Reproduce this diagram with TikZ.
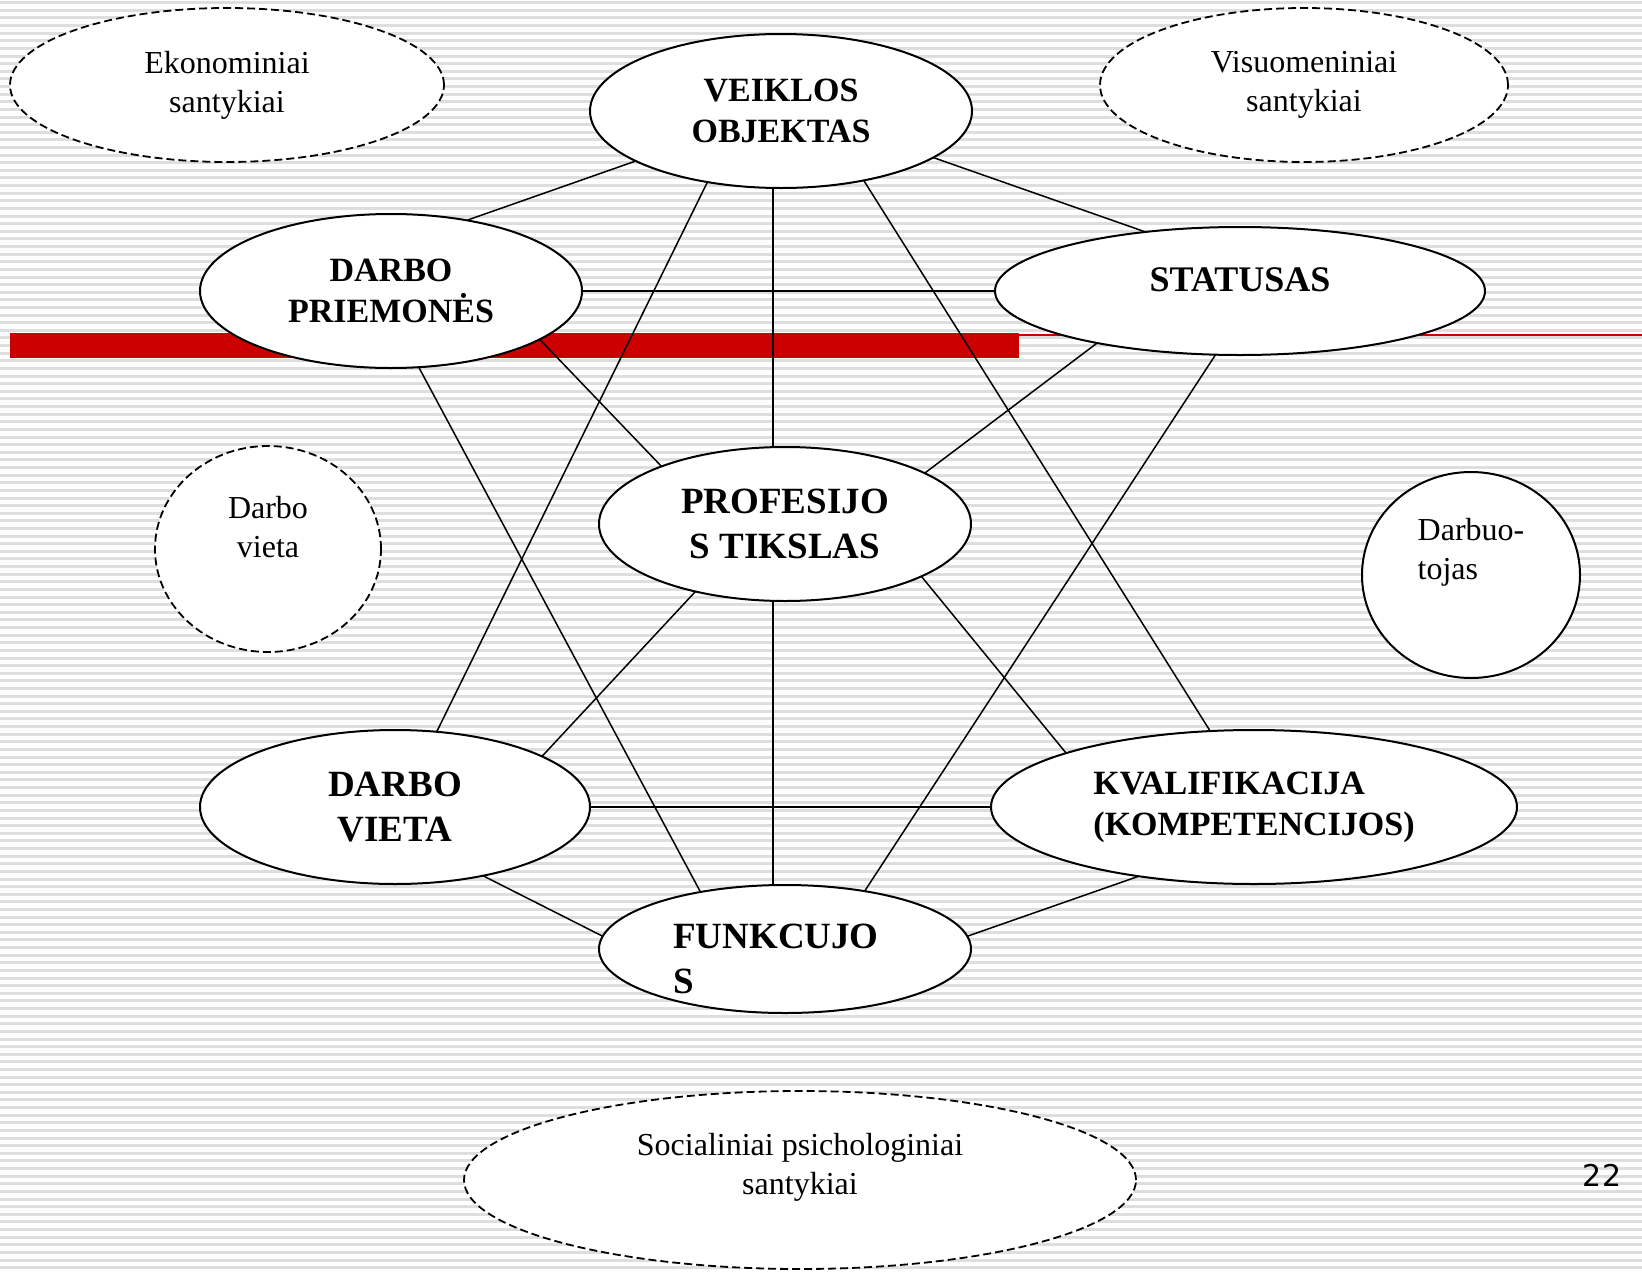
\documentclass[tikz,border=0pt]{standalone}
\usepackage{fontspec}
\setmainfont{Liberation Serif}
\newfontfamily\pagenumfont{DejaVu Sans}
\usetikzlibrary{shapes.geometric}

\tikzset{
  blob/.style={ellipse, draw, line width=2pt, fill=white, inner sep=0pt, outer sep=0pt},
  dblob/.style={blob, line width=1.8pt, dash pattern=on 8pt off 4pt},
  bold34/.style={font=\fontsize{34}{41}\selectfont\bfseries, align=center},
  bold37/.style={font=\fontsize{37}{45}\selectfont\bfseries, align=center},
  plain32/.style={font=\fontsize{32}{39}\selectfont, align=center},
  link/.style={line width=1.5pt},
}

\begin{document}
\begin{tikzpicture}[x=1pt,y=-1pt]
  % Slide background with the light stripes
  \useasboundingbox (0,0) rectangle (1642,1272);
  \fill[white] (0,0) rectangle (1642,1272);
  \foreach \k in {0,...,166}
    \draw[black!13,line width=3pt] (0,2.7+7.62*\k) -- (1642,2.7+7.62*\k);
  % Red title bar
  \fill[red!80!black] (10,333) rectangle (1019,358);
  \draw[red!80!black,line width=2pt] (1019,334.5) -- (1642,334.5);

  % Outer relations (dashed)
  \node[dblob,plain32,minimum width=434pt,minimum height=154pt] (eko) at (227,85) {Ekonominiai\\santykiai};
  \node[dblob,plain32,minimum width=408pt,minimum height=154pt] (vis) at (1304,85) {Visuomeniniai\\santykiai};
  \node[dblob,minimum width=226pt,minimum height=206pt,
        label={[name=dvclbl,plain32,yshift=22pt]center:Darbo\\vieta}] (dvc) at (268,549) {};
  \node[blob,minimum width=218pt,minimum height=206pt,
        label={[name=dbtlbl,plain32,align=left,yshift=23pt]center:Darbuo-\\tojas}] (dbt) at (1471,575) {};
  \node[dblob,minimum width=672pt,minimum height=178pt,
        label={[name=soclbl,plain32,yshift=13pt]center:Socialiniai psichologiniai\\santykiai}] (soc) at (800,1180) {};

  % Main elements
  \node[blob,bold34,minimum width=382pt,minimum height=154pt] (vo) at (781,111) {VEIKLOS\\OBJEKTAS};
  \node[blob,bold34,minimum width=382pt,minimum height=154pt] (dp) at (391,291) {DARBO\\PRIEMONĖS};
  \node[blob,minimum width=490pt,minimum height=128pt,
        label={[name=stlbl,font=\fontsize{36}{42}\selectfont\bfseries,yshift=11pt]center:STATUSAS}] (st) at (1240,291) {};
  \node[blob,bold37,minimum width=372pt,minimum height=154pt] (pt) at (785,524) {PROFESIJO\\S TIKSLAS};
  \node[blob,bold37,minimum width=390pt,minimum height=154pt] (dv) at (395,807) {DARBO\\VIETA};
  \node[blob,bold34,align=left,minimum width=526pt,minimum height=154pt] (kv) at (1254,807) {KVALIFIKACIJA\\(KOMPETENCIJOS)};
  \node[blob,minimum width=372pt,minimum height=128pt,
        label={[name=fulbl,bold37,align=left,xshift=-9pt,yshift=-10pt]center:FUNKCUJO\\S}] (fu) at (785,949) {};

  % Links between the elements
  \draw[link] (dp.43) -- (vo.199);
  \draw[link] (vo.343) -- (st.148);
  \draw[link] (vo.224) -- (dv.61);
  \draw[link] ([xshift=-8pt]vo.south) -- ([xshift=-12pt]pt.north);
  \draw[link] (vo.320) -- (kv.120);
  \draw[link] (dp.east) -- (st.west);
  \draw[link] (dp.342) -- (pt.155);
  \draw[link] (dp.290) -- (fu.146);
  \draw[link] (st.200) -- (pt.20);
  \draw[link] (st.249) -- (fu.36);
  \draw[link] (pt.217) -- (dv.19);
  \draw[link] ([xshift=-12pt]pt.south) -- ([xshift=-12pt]fu.north);
  \draw[link] (pt.339) -- (kv.164);
  \draw[link] (dv.east) -- (kv.west);
  \draw[link] (dv.322) -- (fu.176);
  \draw[link] (fu.4) -- (kv.211);

  % Page number
  \node[font=\pagenumfont\fontsize{30}{36}\selectfont] (pgno) at (1602,1175) {22};
\end{tikzpicture}
\end{document}
